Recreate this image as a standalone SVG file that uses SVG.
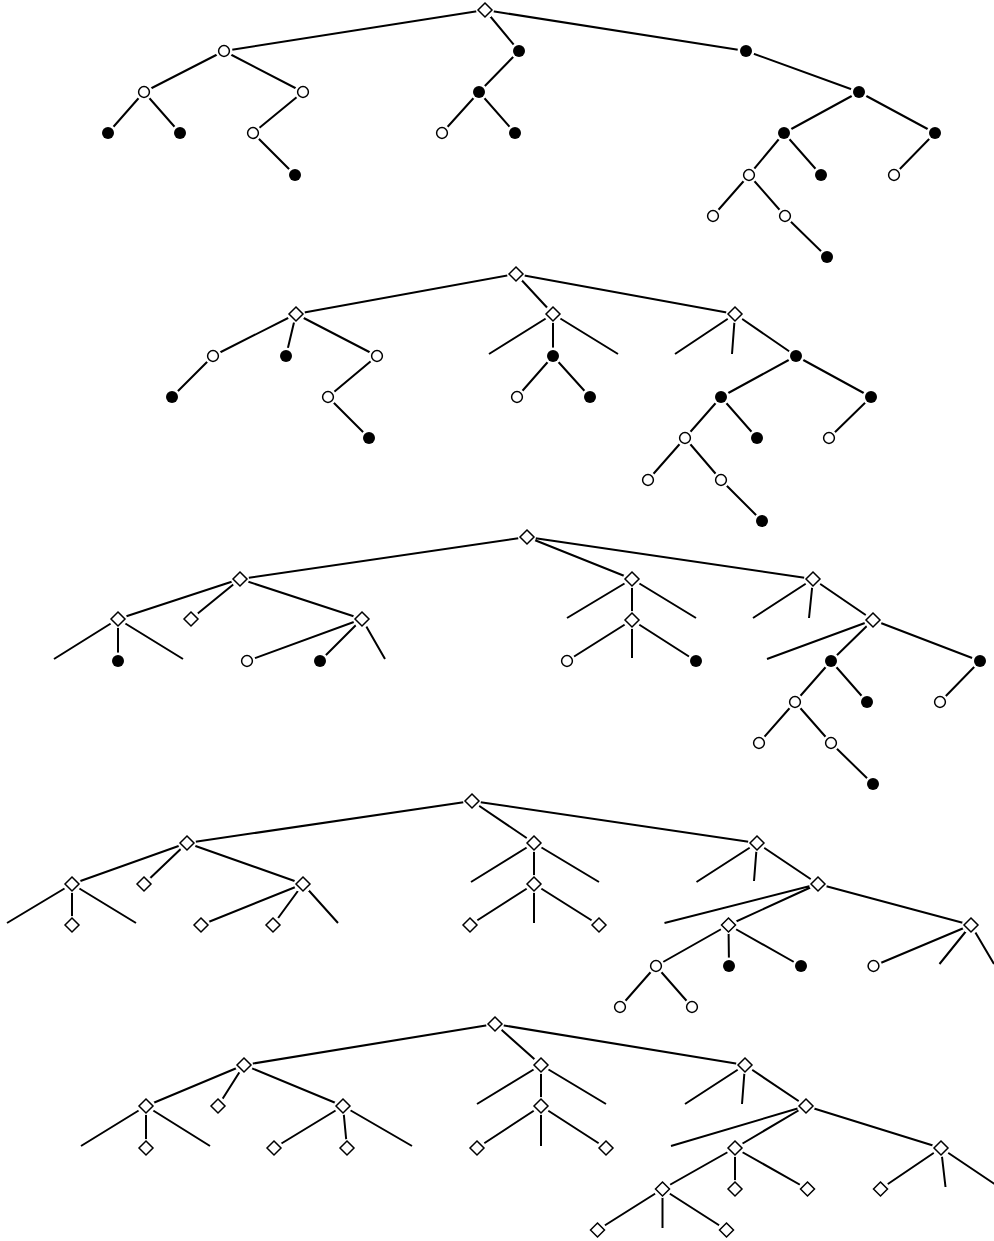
<svg xmlns="http://www.w3.org/2000/svg" width="994" height="1241" viewBox="0 0 994 1241">
<style>
.e{stroke:#000;stroke-width:2;fill:none;stroke-linecap:butt}
.halo{fill:#fff;stroke:none}
.o{fill:#fff;stroke:#000;stroke-width:1.5}
.f{fill:#000;stroke:none}
</style>
<defs>
<g id="dia"><circle class="halo" r="9"/><path class="o" d="M0,-7L7,0L0,7L-7,0Z"/></g>
<g id="opn"><circle class="halo" r="8.5"/><circle class="o" r="5.4"/></g>
<g id="fil"><circle class="halo" r="8.5"/><circle class="f" r="6"/></g>
</defs>
<rect width="994" height="1241" fill="#fff"/>
<g id="connectors" class="e">
<g id="t1-edges">
<path d="M485,10L224,51M485,10L519,51M485,10L746,51"/>
<path d="M224,51L144,92M224,51L303,92M144,92L108,133M144,92L180,133M303,92L253,133M253,133L295,175"/>
<path d="M519,51L479,92M479,92L442,133M479,92L515,133"/>
<path d="M746,51L859,92M859,92L784,133M859,92L935,133M784,133L749,175M784,133L821,175M935,133L894,175M749,175L713,216M749,175L785,216M785,216L827,257"/>
</g>
<g id="t2-edges">
<path d="M516,274L296,314M516,274L553,314M516,274L735,314"/>
<path d="M296,314L213,356M296,314L286,356M296,314L377,356M213,356L172,397M377,356L328,397M328,397L369,438"/>
<path d="M553,314L489,354M553,314L553,356M553,314L618,354M553,356L517,397M553,356L590,397"/>
<path d="M735,314L675,354M735,314L732,354M735,314L796,356M796,356L721,397M796,356L871,397M721,397L685,438M721,397L757,438M871,397L829,438M685,438L648,480M685,438L721,480M721,480L762,521"/>
</g>
<g id="t3-edges">
<path d="M527,537L240,579M527,537L632,579M527,537L813,579"/>
<path d="M240,579L118,619M240,579L191,619M240,579L362,619M118,619L54,659M118,619L118,661M118,619L183,659M362,619L247,661M362,619L320,661M362,619L385,659"/>
<path d="M632,579L567,618M632,579L632,620M632,579L696,618M632,620L567,661M632,620L632,658M632,620L696,661"/>
<path d="M813,579L753,618M813,579L809,618M813,579L873,620M873,620L767,659M873,620L831,661M873,620L980,661M831,661L795,702M831,661L867,702M980,661L940,702M795,702L759,743M795,702L831,743M831,743L873,784"/>
</g>
<g id="t4-edges">
<path d="M472,801L187,843M472,801L534,843M472,801L757,843"/>
<path d="M187,843L72,884M187,843L144,884M187,843L303,884M72,884L7,923M72,884L72,925M72,884L136,923M303,884L201,925M303,884L273,925M303,884L338,923"/>
<path d="M534,843L471,882M534,843L534,884M534,843L599,882M534,884L470,925M534,884L534,923M534,884L599,925"/>
<path d="M757,843L696.5,882M757,843L754,881M757,843L818,884M818,884L664.5,923M818,884L728.5,925M818,884L971,925M728.5,925L656,966M728.5,925L729,966M728.5,925L801,966M971,925L873.5,966M971,925L939.5,964M971,925L994,964M656,966L620,1007M656,966L692,1007"/>
</g>
<g id="t5-edges">
<path d="M495,1024L244,1065M495,1024L541,1065M495,1024L745,1065"/>
<path d="M244,1065L146,1106M244,1065L218,1106M244,1065L343,1106M146,1106L81,1146M146,1106L146,1148M146,1106L210,1146M343,1106L274,1148M343,1106L347,1148M343,1106L412,1146"/>
<path d="M541,1065L477,1104M541,1065L541,1106M541,1065L606,1104M541,1106L477,1148M541,1106L541,1146M541,1106L606,1148"/>
<path d="M745,1065L685,1104M745,1065L742,1104M745,1065L806,1106M806,1106L671,1146M806,1106L735,1148M806,1106L941,1148M735,1148L662.5,1189M735,1148L735,1189M735,1148L807.5,1189M941,1148L880.5,1189M941,1148L945.5,1187M941,1148L1002,1189M662.5,1189L597.5,1230M662.5,1189L662.5,1228M662.5,1189L726.5,1230"/>
</g>
</g>
<g id="tree1">
<g id="t1-root"><use href="#dia" x="485" y="10"/></g>
<g id="t1-a"><use href="#opn" x="224" y="51"/></g>
<g id="t1-b"><use href="#opn" x="144" y="92"/></g>
<g id="t1-c"><use href="#opn" x="303" y="92"/></g>
<g id="t1-b1"><use href="#fil" x="108" y="133"/></g>
<g id="t1-b2"><use href="#fil" x="180" y="133"/></g>
<g id="t1-c1"><use href="#opn" x="253" y="133"/></g>
<g id="t1-c1a"><use href="#fil" x="295" y="175"/></g>
<g id="t1-m"><use href="#fil" x="519" y="51"/></g>
<g id="t1-m1"><use href="#fil" x="479" y="92"/></g>
<g id="t1-m1a"><use href="#opn" x="442" y="133"/></g>
<g id="t1-m1b"><use href="#fil" x="515" y="133"/></g>
<g id="t1-r1"><use href="#fil" x="746" y="51"/></g>
<g id="t1-r2"><use href="#fil" x="859" y="92"/></g>
<g id="t1-r3"><use href="#fil" x="784" y="133"/></g>
<g id="t1-r4"><use href="#fil" x="935" y="133"/></g>
<g id="t1-r3a"><use href="#opn" x="749" y="175"/></g>
<g id="t1-r3b"><use href="#fil" x="821" y="175"/></g>
<g id="t1-r4a"><use href="#opn" x="894" y="175"/></g>
<g id="t1-r3aa"><use href="#opn" x="713" y="216"/></g>
<g id="t1-r3ab"><use href="#opn" x="785" y="216"/></g>
<g id="t1-r3aba"><use href="#fil" x="827" y="257"/></g>
</g>
<g id="tree2">
<g id="t2-root"><use href="#dia" x="516" y="274"/></g>
<g id="t2-l"><use href="#dia" x="296" y="314"/></g>
<g id="t2-m"><use href="#dia" x="553" y="314"/></g>
<g id="t2-r"><use href="#dia" x="735" y="314"/></g>
<g id="t2-l1"><use href="#opn" x="213" y="356"/></g>
<g id="t2-l2"><use href="#fil" x="286" y="356"/></g>
<g id="t2-l3"><use href="#opn" x="377" y="356"/></g>
<g id="t2-l1a"><use href="#fil" x="172" y="397"/></g>
<g id="t2-l3a"><use href="#opn" x="328" y="397"/></g>
<g id="t2-l3aa"><use href="#fil" x="369" y="438"/></g>
<g id="t2-m2"><use href="#fil" x="553" y="356"/></g>
<g id="t2-m2a"><use href="#opn" x="517" y="397"/></g>
<g id="t2-m2b"><use href="#fil" x="590" y="397"/></g>
<g id="t2-r3"><use href="#fil" x="796" y="356"/></g>
<g id="t2-r3a"><use href="#fil" x="721" y="397"/></g>
<g id="t2-r3b"><use href="#fil" x="871" y="397"/></g>
<g id="t2-r3aa"><use href="#opn" x="685" y="438"/></g>
<g id="t2-r3ab"><use href="#fil" x="757" y="438"/></g>
<g id="t2-r3ba"><use href="#opn" x="829" y="438"/></g>
<g id="t2-r3aaa"><use href="#opn" x="648" y="480"/></g>
<g id="t2-r3aab"><use href="#opn" x="721" y="480"/></g>
<g id="t2-r3aaba"><use href="#fil" x="762" y="521"/></g>
</g>
<g id="tree3">
<g id="t3-root"><use href="#dia" x="527" y="537"/></g>
<g id="t3-l"><use href="#dia" x="240" y="579"/></g>
<g id="t3-m"><use href="#dia" x="632" y="579"/></g>
<g id="t3-r"><use href="#dia" x="813" y="579"/></g>
<g id="t3-ll"><use href="#dia" x="118" y="619"/></g>
<g id="t3-lm"><use href="#dia" x="191" y="619"/></g>
<g id="t3-lr"><use href="#dia" x="362" y="619"/></g>
<g id="t3-ll2"><use href="#fil" x="118" y="661"/></g>
<g id="t3-lr1"><use href="#opn" x="247" y="661"/></g>
<g id="t3-lr2"><use href="#fil" x="320" y="661"/></g>
<g id="t3-mm"><use href="#dia" x="632" y="620"/></g>
<g id="t3-mm1"><use href="#opn" x="567" y="661"/></g>
<g id="t3-mm3"><use href="#fil" x="696" y="661"/></g>
<g id="t3-rr"><use href="#dia" x="873" y="620"/></g>
<g id="t3-rr2"><use href="#fil" x="831" y="661"/></g>
<g id="t3-rr3"><use href="#fil" x="980" y="661"/></g>
<g id="t3-rr2a"><use href="#opn" x="795" y="702"/></g>
<g id="t3-rr2b"><use href="#fil" x="867" y="702"/></g>
<g id="t3-rr3a"><use href="#opn" x="940" y="702"/></g>
<g id="t3-rr2aa"><use href="#opn" x="759" y="743"/></g>
<g id="t3-rr2ab"><use href="#opn" x="831" y="743"/></g>
<g id="t3-rr2aba"><use href="#fil" x="873" y="784"/></g>
</g>
<g id="tree4">
<g id="t4-root"><use href="#dia" x="472" y="801"/></g>
<g id="t4-l"><use href="#dia" x="187" y="843"/></g>
<g id="t4-m"><use href="#dia" x="534" y="843"/></g>
<g id="t4-r"><use href="#dia" x="757" y="843"/></g>
<g id="t4-ll"><use href="#dia" x="72" y="884"/></g>
<g id="t4-lm"><use href="#dia" x="144" y="884"/></g>
<g id="t4-lr"><use href="#dia" x="303" y="884"/></g>
<g id="t4-ll2"><use href="#dia" x="72" y="925"/></g>
<g id="t4-lr1"><use href="#dia" x="201" y="925"/></g>
<g id="t4-lr2"><use href="#dia" x="273" y="925"/></g>
<g id="t4-mm"><use href="#dia" x="534" y="884"/></g>
<g id="t4-mm1"><use href="#dia" x="470" y="925"/></g>
<g id="t4-mm3"><use href="#dia" x="599" y="925"/></g>
<g id="t4-rr"><use href="#dia" x="818" y="884"/></g>
<g id="t4-rr2"><use href="#dia" x="728.5" y="925"/></g>
<g id="t4-rr3"><use href="#dia" x="971" y="925"/></g>
<g id="t4-rr2a"><use href="#opn" x="656" y="966"/></g>
<g id="t4-rr2b"><use href="#fil" x="729" y="966"/></g>
<g id="t4-rr2c"><use href="#fil" x="801" y="966"/></g>
<g id="t4-rr3a"><use href="#opn" x="873.5" y="966"/></g>
<g id="t4-rr2aa"><use href="#opn" x="620" y="1007"/></g>
<g id="t4-rr2ab"><use href="#opn" x="692" y="1007"/></g>
</g>
<g id="tree5">
<g id="t5-root"><use href="#dia" x="495" y="1024"/></g>
<g id="t5-l"><use href="#dia" x="244" y="1065"/></g>
<g id="t5-m"><use href="#dia" x="541" y="1065"/></g>
<g id="t5-r"><use href="#dia" x="745" y="1065"/></g>
<g id="t5-ll"><use href="#dia" x="146" y="1106"/></g>
<g id="t5-lm"><use href="#dia" x="218" y="1106"/></g>
<g id="t5-lr"><use href="#dia" x="343" y="1106"/></g>
<g id="t5-ll2"><use href="#dia" x="146" y="1148"/></g>
<g id="t5-lr1"><use href="#dia" x="274" y="1148"/></g>
<g id="t5-lr2"><use href="#dia" x="347" y="1148"/></g>
<g id="t5-mm"><use href="#dia" x="541" y="1106"/></g>
<g id="t5-mm1"><use href="#dia" x="477" y="1148"/></g>
<g id="t5-mm3"><use href="#dia" x="606" y="1148"/></g>
<g id="t5-rr"><use href="#dia" x="806" y="1106"/></g>
<g id="t5-rr2"><use href="#dia" x="735" y="1148"/></g>
<g id="t5-rr3"><use href="#dia" x="941" y="1148"/></g>
<g id="t5-rr2a"><use href="#dia" x="662.5" y="1189"/></g>
<g id="t5-rr2b"><use href="#dia" x="735" y="1189"/></g>
<g id="t5-rr2c"><use href="#dia" x="807.5" y="1189"/></g>
<g id="t5-rr3a"><use href="#dia" x="880.5" y="1189"/></g>
<g id="t5-rr2aa"><use href="#dia" x="597.5" y="1230"/></g>
<g id="t5-rr2ac"><use href="#dia" x="726.5" y="1230"/></g>
</g>
</svg>
